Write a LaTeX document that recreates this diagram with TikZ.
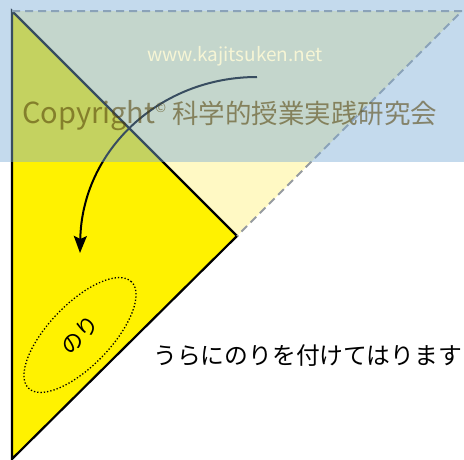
\documentclass[tikz,border=0pt]{standalone}
\usepackage{fontspec}
\setmainfont{Noto Sans CJK JP}
\usetikzlibrary{arrows.meta,shapes.geometric}
\definecolor{paperyellow}{RGB}{255,242,0}
\definecolor{foldyellow}{RGB}{255,249,196}
\definecolor{foldgrey}{RGB}{150,155,160}
\definecolor{wmblue}{RGB}{125,172,215}
\definecolor{wmtext}{RGB}{80,60,0}
\definecolor{wmlight}{RGB}{255,251,215}
\tikzset{
  paper/.style={fill=paperyellow, draw=black, line width=2.2pt, line join=miter},
  foldline/.style={draw=foldgrey, line width=2pt, dash pattern=on 8pt off 5pt},
  arrowline/.style={draw=black, line width=2pt, -{Stealth[length=17pt,width=13pt,inset=3pt]}},
  gluemark/.style={ellipse, draw=black, line width=1.3pt, dotted, minimum width=148pt, minimum height=62pt, inner sep=0pt, font=\fontsize{22}{26}\selectfont},
  label/.style={font=\fontsize{23.8}{28}\selectfont, inner sep=0pt}
}
\begin{document}
\begin{tikzpicture}[x=1pt,y=1pt]
\useasboundingbox (0,0) rectangle (464,-459);
\coordinate (tl) at (12,-11);
\coordinate (tr) at (462,-11);
\coordinate (rv) at (237,-236);
\coordinate (bl) at (12,-459);
\coordinate (astart) at (257,-77);
\coordinate (aend) at (80,-253);
% folded flap (light)
\fill[foldyellow] (tl) -- (tr) -- (rv) -- cycle;
% yellow triangle
\draw[paper] (tl) -- (rv) -- (bl) -- cycle;
% fold dashed lines
\draw[foldline] (tl) -- (tr) -- (rv);
% arrow
\draw[arrowline] (astart) .. controls (160,-77) and (82,-150) .. (aend);
% glue ellipse with text
\node[gluemark, rotate=46] (glue) at (80,-335) {のり};
% instruction text
\node[label, anchor=west] (instr) at (153,-356) {うらにのりを付けてはります};
% watermark
\fill[wmblue, opacity=0.45] (0,0) rectangle (464,-162);
\node[inner sep=0pt, text=wmlight, opacity=0.85, font=\fontsize{19}{21}\selectfont] (wm1) at (235,-56) {www.kajitsuken.net};
\node[inner sep=0pt, anchor=west, text=wmtext, opacity=0.55, font=\fontsize{29}{32}\selectfont] (wm2) at (22,-116) {Copyright\raisebox{0.4em}{\fontsize{13}{14}\selectfont ©}\hspace{6pt}{\fontsize{26.5}{30}\selectfont 科学的授業実践研究会}};
\end{tikzpicture}
\end{document}
